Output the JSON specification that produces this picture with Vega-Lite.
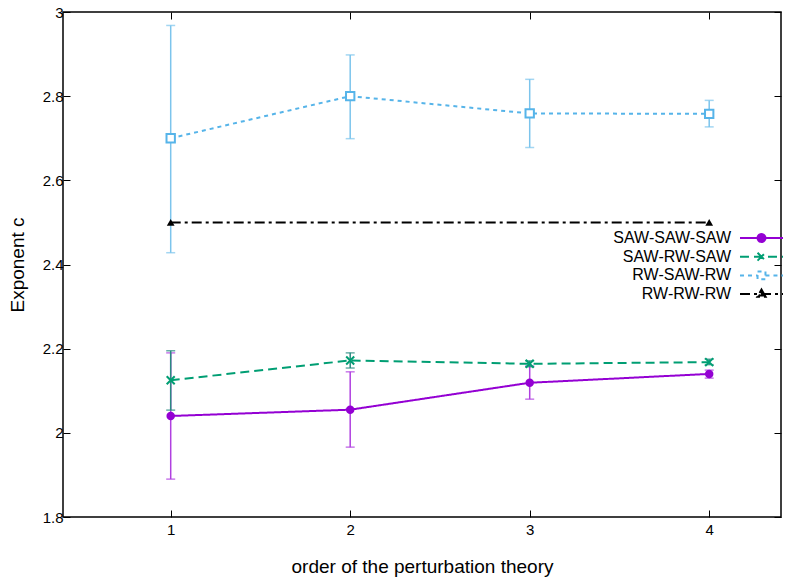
{
  "$schema": "https://vega.github.io/schema/vega-lite/v6.json",
  "width": 718,
  "height": 505,
  "autosize": {"type": "none"},
  "padding": {"left": 63, "top": 12, "right": 10, "bottom": 61},
  "background": "#ffffff",
  "config": {
    "font": "Liberation Sans",
    "view": {"stroke": "#000000", "strokeWidth": 1.5},
    "axis": {
      "grid": false,
      "domain": false,
      "tickColor": "#000000",
      "tickSize": -7,
      "tickWidth": 1,
      "labelFontSize": 15,
      "labelColor": "#000000",
      "labelFont": "Liberation Sans",
      "titleFont": "Liberation Sans",
      "titleFontSize": 19,
      "titleFontWeight": "normal",
      "titleColor": "#000000"
    },
    "legend": {
      "orient": "none",
      "legendX": 688.5,
      "legendY": 216,
      "padding": 0,
      "labelFontSize": 16,
      "labelFont": "Liberation Sans",
      "labelColor": "#000000",
      "labelAlign": "right",
      "labelOffset": -40.5,
      "symbolSize": 324,
      "symbolStrokeWidth": 2,
      "symbolFillColor": "transparent",
      "rowPadding": 0.7
    }
  },
  "data": {
    "values": [
      {"series": "SAW-SAW-SAW", "order": 1, "c": 2.04, "lo": 1.89, "hi": 2.19},
      {"series": "SAW-SAW-SAW", "order": 2, "c": 2.055, "lo": 1.966, "hi": 2.145},
      {"series": "SAW-SAW-SAW", "order": 3, "c": 2.119, "lo": 2.08, "hi": 2.159},
      {"series": "SAW-SAW-SAW", "order": 4, "c": 2.14, "lo": 2.13, "hi": 2.149},
      {"series": "SAW-RW-SAW", "order": 1, "c": 2.125, "lo": 2.054, "hi": 2.195},
      {"series": "SAW-RW-SAW", "order": 2, "c": 2.172, "lo": 2.154, "hi": 2.19},
      {"series": "SAW-RW-SAW", "order": 3, "c": 2.164, "lo": 2.157, "hi": 2.171},
      {"series": "SAW-RW-SAW", "order": 4, "c": 2.168, "lo": 2.162, "hi": 2.175},
      {"series": "RW-SAW-RW", "order": 1, "c": 2.7, "lo": 2.428, "hi": 2.968},
      {"series": "RW-SAW-RW", "order": 2, "c": 2.8, "lo": 2.699, "hi": 2.898},
      {"series": "RW-SAW-RW", "order": 3, "c": 2.759, "lo": 2.678, "hi": 2.84},
      {"series": "RW-SAW-RW", "order": 4, "c": 2.758, "lo": 2.727, "hi": 2.79},
      {"series": "RW-RW-RW", "order": 1, "c": 2.5, "lo": null, "hi": null},
      {"series": "RW-RW-RW", "order": 4, "c": 2.5, "lo": null, "hi": null}
    ]
  },
  "layer": [
    {
      "transform": [{"filter": "datum.series === 'SAW-SAW-SAW'"}],
      "mark": {"type": "errorbar", "color": "#b040e0", "thickness": 1.5, "ticks": {"size": 9, "thickness": 1.5}},
      "encoding": {
        "x": {
          "field": "order", "type": "quantitative",
          "scale": {"domain": [0.4, 4.4], "nice": false, "zero": false},
          "axis": {"orient": "bottom", "values": [1, 2, 3, 4], "format": "d", "title": "order of the perturbation theory", "labelPadding": 12, "titlePadding": 20}
        },
        "y": {
          "field": "lo", "type": "quantitative",
          "scale": {"domain": [1.8, 3], "nice": false, "zero": false},
          "axis": {"orient": "left", "values": [1.8, 2, 2.2, 2.4, 2.6, 2.8, 3], "format": ".1~f", "title": "Exponent c", "labelPadding": 7, "titlePadding": 15}
        },
        "y2": {"field": "hi"}
      }
    },
    {
      "transform": [{"filter": "datum.series === 'SAW-RW-SAW'"}],
      "mark": {"type": "errorbar", "color": "#2a8a80", "thickness": 1.5, "ticks": {"size": 9, "thickness": 1.5}},
      "encoding": {
        "x": {"field": "order", "type": "quantitative", "axis": null},
        "y": {"field": "lo", "type": "quantitative", "axis": null},
        "y2": {"field": "hi"}
      }
    },
    {
      "transform": [{"filter": "datum.series === 'RW-SAW-RW'"}],
      "mark": {"type": "errorbar", "color": "#7cc4ec", "thickness": 1.5, "ticks": {"size": 9, "thickness": 1.5}},
      "encoding": {
        "x": {"field": "order", "type": "quantitative", "axis": null},
        "y": {"field": "lo", "type": "quantitative", "axis": null},
        "y2": {"field": "hi"}
      }
    },
    {
      "mark": {"type": "line", "strokeWidth": 2},
      "encoding": {
        "x": {"field": "order", "type": "quantitative", "axis": null},
        "y": {
          "field": "c", "type": "quantitative",
          "axis": {"orient": "right", "values": [1.8, 2, 2.2, 2.4, 2.6, 2.8, 3], "labels": false, "title": null}
        },
        "color": {
          "field": "series", "type": "nominal",
          "scale": {"domain": ["SAW-SAW-SAW", "SAW-RW-SAW", "RW-SAW-RW", "RW-RW-RW"], "range": ["#9400d3", "#009e73", "#56b4e9", "#000000"]},
          "legend": {"title": null}
        },
        "strokeDash": {
          "field": "series", "type": "nominal",
          "scale": {"domain": ["SAW-SAW-SAW", "SAW-RW-SAW", "RW-SAW-RW", "RW-RW-RW"], "range": [[1, 0], [9, 5], [4, 4], [10, 4, 3, 4]]},
          "legend": {"title": null}
        }
      }
    },
    {
      "transform": [{"filter": "false"}],
      "mark": {"type": "point", "filled": false, "fill": "transparent", "strokeWidth": 2, "opacity": 1},
      "encoding": {
        "x": {"field": "order", "type": "quantitative", "axis": null},
        "y": {"field": "c", "type": "quantitative", "axis": null},
        "color": {"field": "series", "type": "nominal", "legend": {"title": null}},
        "strokeDash": {"field": "series", "type": "nominal", "legend": {"title": null}},
        "shape": {
          "field": "series", "type": "nominal",
          "scale": {
            "domain": ["SAW-SAW-SAW", "SAW-RW-SAW", "RW-SAW-RW", "RW-RW-RW"],
            "range": [
              "M-2.39,0H2.39M-0.44,0A0.44,0.44,0,1,1,0.44,0A0.44,0.44,0,1,1,-0.44,0ZM-0.26,0A0.26,0.26,0,1,1,0.26,0A0.26,0.26,0,1,1,-0.26,0ZM-0.1,0A0.1,0.1,0,1,1,0.1,0A0.1,0.1,0,1,1,-0.1,0Z",
              "M-2.39,0H2.39M-0.44,-0.44L0.44,0.44M-0.44,0.44L0.44,-0.44",
              "M-2.39,0H-0.44M0.44,0H2.39M-0.44,-0.44H0.44V0.44H-0.44Z",
              "M-2.39,0H2.39M0,-0.5L0.46,0.3H-0.46ZM0,-0.27L0.24,0.16H-0.24Z"
            ]
          },
          "legend": {"title": null}
        }
      }
    },
    {
      "transform": [{"filter": "datum.series === 'SAW-SAW-SAW'"}],
      "mark": {"type": "point", "shape": "circle", "filled": true, "color": "#9400d3", "size": 72, "opacity": 1},
      "encoding": {
        "x": {
          "field": "order", "type": "quantitative",
          "axis": {"orient": "top", "values": [1, 2, 3, 4], "labels": false, "title": null}
        },
        "y": {"field": "c", "type": "quantitative", "axis": null}
      }
    },
    {
      "transform": [{"filter": "datum.series === 'SAW-RW-SAW'"}],
      "mark": {"type": "point", "shape": "M-1,-1L1,1M-1,1L1,-1", "filled": false, "color": "#009e73", "size": 64, "strokeWidth": 2, "opacity": 1},
      "encoding": {
        "x": {"field": "order", "type": "quantitative", "axis": null},
        "y": {"field": "c", "type": "quantitative", "axis": null}
      }
    },
    {
      "transform": [{"filter": "datum.series === 'RW-SAW-RW'"}],
      "mark": {"type": "point", "shape": "square", "filled": false, "color": "#56b4e9", "fill": "#ffffff", "size": 70, "strokeWidth": 2, "opacity": 1},
      "encoding": {
        "x": {"field": "order", "type": "quantitative", "axis": null},
        "y": {"field": "c", "type": "quantitative", "axis": null}
      }
    },
    {
      "transform": [{"filter": "datum.series === 'RW-RW-RW'"}],
      "mark": {"type": "point", "shape": "triangle-up", "filled": true, "color": "#000000", "size": 60, "opacity": 1},
      "encoding": {
        "x": {"field": "order", "type": "quantitative", "axis": null},
        "y": {"field": "c", "type": "quantitative", "axis": null}
      }
    }
  ]
}
